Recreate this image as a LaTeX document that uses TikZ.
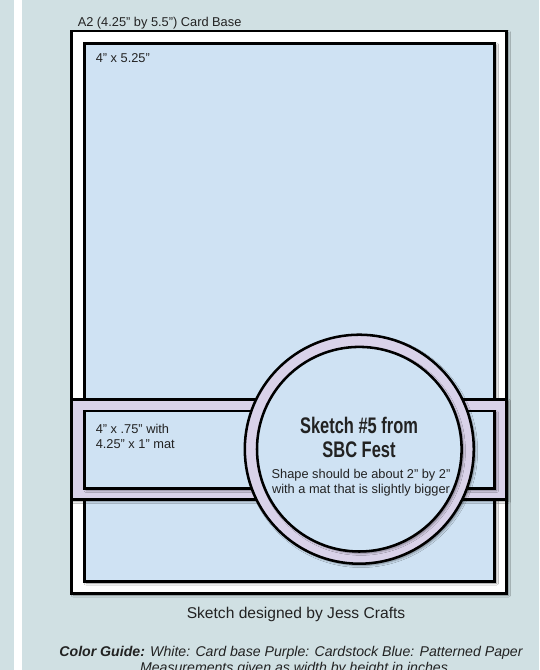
\documentclass[tikz,border=0pt]{standalone}
\usepackage{fontspec}
\setmainfont{Liberation Sans}
\newfontfamily\titlefont{Liberation Sans}[FakeStretch=0.73]
\usetikzlibrary{shadows.blur}
\definecolor{panel}{HTML}{D0E0E3}
\definecolor{paperblue}{HTML}{CFE2F3}
\definecolor{stock}{HTML}{D9D2E9}
\definecolor{ink}{HTML}{222222}
\begin{document}
\begin{tikzpicture}[x=0.75pt,y=-0.75pt,
  shade/.style={blur shadow={shadow xshift=1.3pt,shadow yshift=-1.3pt,shadow blur radius=1.6pt,shadow opacity=45}},
  cardbase/.style={fill=white,draw=black,line width=2.2pt,shade},
  paper/.style={fill=paperblue,draw=black,line width=1.9pt,shade},
  mat/.style={fill=stock,draw=black,line width=1.9pt,shade},
  lbl/.style={inner sep=0pt,text=ink,font=\fontsize{9.6pt}{11.25pt}\selectfont},
  title/.style={inner sep=0pt,text=ink,align=center,font=\titlefont\bfseries\fontsize{16.9pt}{18pt}\selectfont},
  credit/.style={inner sep=0pt,text=ink,anchor=base,font=\fontsize{11.7pt}{13pt}\selectfont},
  guide/.style={inner sep=0pt,text=ink,anchor=base,font=\itshape\fontsize{10.6pt}{12pt}\selectfont}]
\useasboundingbox (0,0) rectangle (539,670);
\clip (0,0) rectangle (539,670);
\fill[panel] (0,0) rectangle (539,670);
\fill[white] (14,0) rectangle (21.5,670);
% card base
\path[cardbase] (71.7,31) rectangle (506.7,593.3);
% main patterned panel
\path[paper] (84.5,43.3) rectangle (494.7,581.3);
% band with mat
\path[mat] (71.7,399.5) rectangle (506.7,499.5);
\path[paper] (84.5,411.2) rectangle (494.7,488.7);
% circle with mat
\path[mat] (359.3,449.2) circle [radius=114.5];
\path[paper] (359.3,449.2) circle [radius=102.3];
% texts
\node[lbl,anchor=base west] (basetxt) at (77.5,27) {A2 (4.25" by 5.5") Card Base};
\node[lbl,anchor=base west] (paneltxt) at (95.5,63) {4" x 5.25"};
\node[lbl,anchor=base west,align=left] (bandtxt) at (95.5,448) {4" x .75" with\\4.25" x 1" mat};
\node[title,anchor=base] (titletxt) at (359,457) {Sketch \#5 from\\SBC Fest};
\node[lbl,anchor=base,align=center] (shapetxt) at (361,493) {Shape should be about 2" by 2"\\with a mat that is slightly bigger};
\node[credit] (credittxt) at (296,618) {Sketch designed by Jess Crafts};
\node[guide] (guidetxt) at (291,656) {\bfseries Color Guide: \mdseries White: Card base Purple: Cardstock Blue: Patterned Paper};
\node[guide] (meastxt) at (294,672) {Measurements given as width by height in inches};
\end{tikzpicture}
\end{document}
